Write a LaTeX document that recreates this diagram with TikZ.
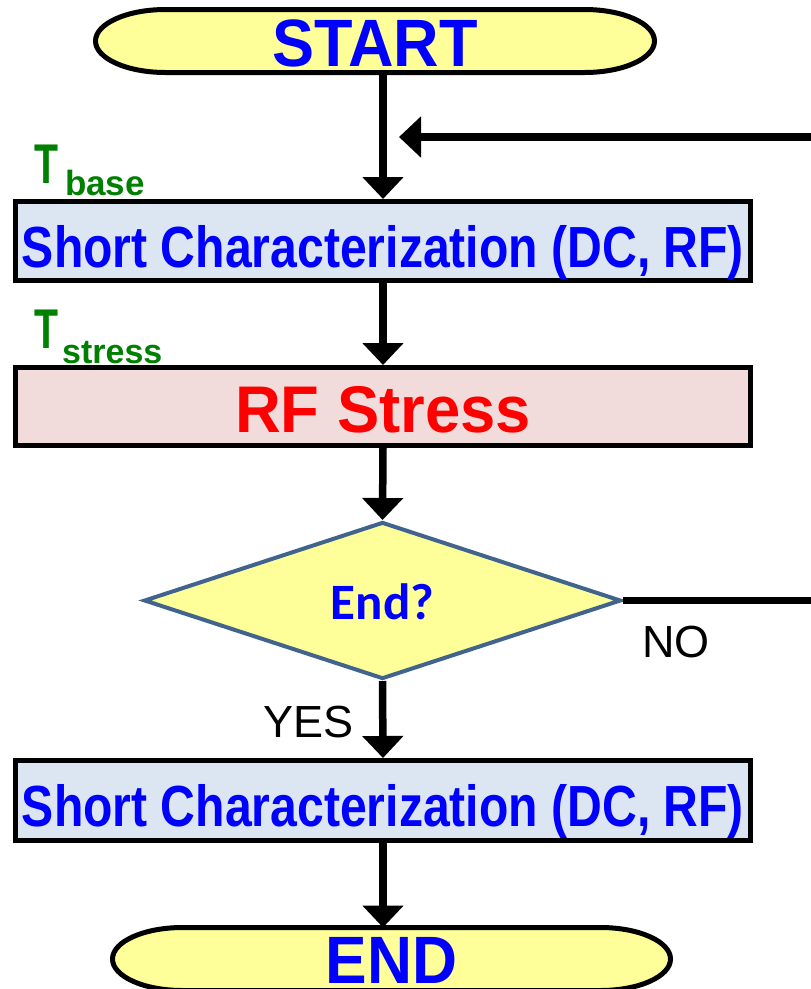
\documentclass[tikz,border=0pt]{standalone}
\usepackage{fontspec}
\usepackage{graphicx}
\setmainfont{Liberation Sans}
\newfontfamily\deciderfont{Carlito}
\usetikzlibrary{arrows.meta,shapes.geometric,backgrounds}

\definecolor{termfill}{HTML}{FFFF99}
\definecolor{stepfill}{HTML}{DCE6F2}
\definecolor{stressfill}{HTML}{F2DCDB}
\definecolor{diaedge}{HTML}{41648F}
\definecolor{tgreen}{HTML}{008000}

\begin{document}
\begin{tikzpicture}[
  x=1pt, y=1pt,
  termnode/.style={draw=none, outer sep=0pt, inner sep=0pt, text depth=0pt,
    text=blue, font=\fontsize{67}{67}\selectfont\bfseries},
  termline/.style={draw=black, line width=5pt, fill=termfill},
  stepbox/.style={draw=black, line width=5pt, fill=stepfill, inner sep=0pt,
    minimum width=735, text height=52pt, text depth=0pt, text=blue,
    font=\fontsize{58}{58}\selectfont\bfseries},
  stressbox/.style={stepbox, fill=stressfill, text=red, text height=51pt,
    font=\fontsize{66}{66}\selectfont\bfseries},
  decision/.style={diamond, draw=diaedge, line width=4pt, fill=termfill,
    inner sep=0pt, minimum width=477, minimum height=157,
    text height=37pt, text depth=0pt, text=blue,
    font=\fontsize{51}{51}\selectfont\deciderfont\bfseries},
  flow/.style={line width=7.5pt, -{Triangle[width=40pt,length=22pt]}},
  answer/.style={inner sep=0pt, font=\fontsize{45}{45}\selectfont},
  templabel/.style={inner sep=0pt, anchor=base west, text=tgreen, font=\bfseries}
]
\useasboundingbox (0,0) rectangle (811,-989);
\clip (0,0) rectangle (811,-989);

% terminals
\node[termnode, minimum width=559, minimum height=63, text height=50pt] (start)
  at (375,-41) {\scalebox{0.94}[1]{START}};
\node[termnode, minimum width=558, minimum height=63, text height=48pt] (finish)
  at (391.5,-959) {\scalebox{0.93}[1]{END}};

% process steps
\node[stepbox, minimum height=79] (char1) at (383,-241)
  {\scalebox{0.83}[1]{Short Characterization (DC, RF)}};
\node[stressbox, minimum height=78] (stress) at (383,-406.5)
  {\scalebox{0.96}[1]{RF Stress}};
\node[decision] (dec) at (382.5,-600.5) {End?};
\node[stepbox, minimum height=80] (char2) at (383,-800.5)
  {\scalebox{0.83}[1]{Short Characterization (DC, RF)}};

% terminal outlines with elliptical ends, behind their labels
\begin{pgfonlayer}{background}
  \draw[termline] ([xshift=70pt]start.north west) -- ([xshift=-70pt]start.north east)
    arc[start angle=90, end angle=-90, x radius=70pt, y radius=31.5pt]
    -- ([xshift=70pt]start.south west)
    arc[start angle=270, end angle=90, x radius=70pt, y radius=31.5pt] -- cycle;
  \draw[termline] ([xshift=70pt]finish.north west) -- ([xshift=-70pt]finish.north east)
    arc[start angle=90, end angle=-90, x radius=70pt, y radius=31.5pt]
    -- ([xshift=70pt]finish.south west)
    arc[start angle=270, end angle=90, x radius=70pt, y radius=31.5pt] -- cycle;
\end{pgfonlayer}

% temperature labels
\node[templabel] (tbase) at (34,-183)
  {{\fontsize{56}{56}\selectfont\scalebox{0.7}[1]{T}}\hspace{7pt}\raisebox{-12pt}{\fontsize{35}{35}\selectfont base}};
\node[templabel] (tstress) at (34,-348)
  {{\fontsize{56}{56}\selectfont\scalebox{0.7}[1]{T}}\hspace{4pt}\raisebox{-15pt}{\fontsize{34}{34}\selectfont stress}};

% branch labels
\node[answer, anchor=base west] (nolabel) at (642,-657) {NO};
\node[answer, anchor=base east] (yeslabel) at (354,-737) {YES};

% connectors
\coordinate (loopR) at (840,-137);
\coordinate (merge) at (399,-137);
\draw[flow] (char1.north |- start.south) -- (char1.north);
\draw[flow] (char1.south) -- (stress.north);
\draw[flow] (stress.south) -- (dec.north);
\draw[flow] (dec.south) -- (char2.north);
\draw[flow] (char2.south) -- (char2.south |- finish.north);
\draw[flow] (dec.east) -| (loopR) -- (merge);
\end{tikzpicture}
\end{document}
